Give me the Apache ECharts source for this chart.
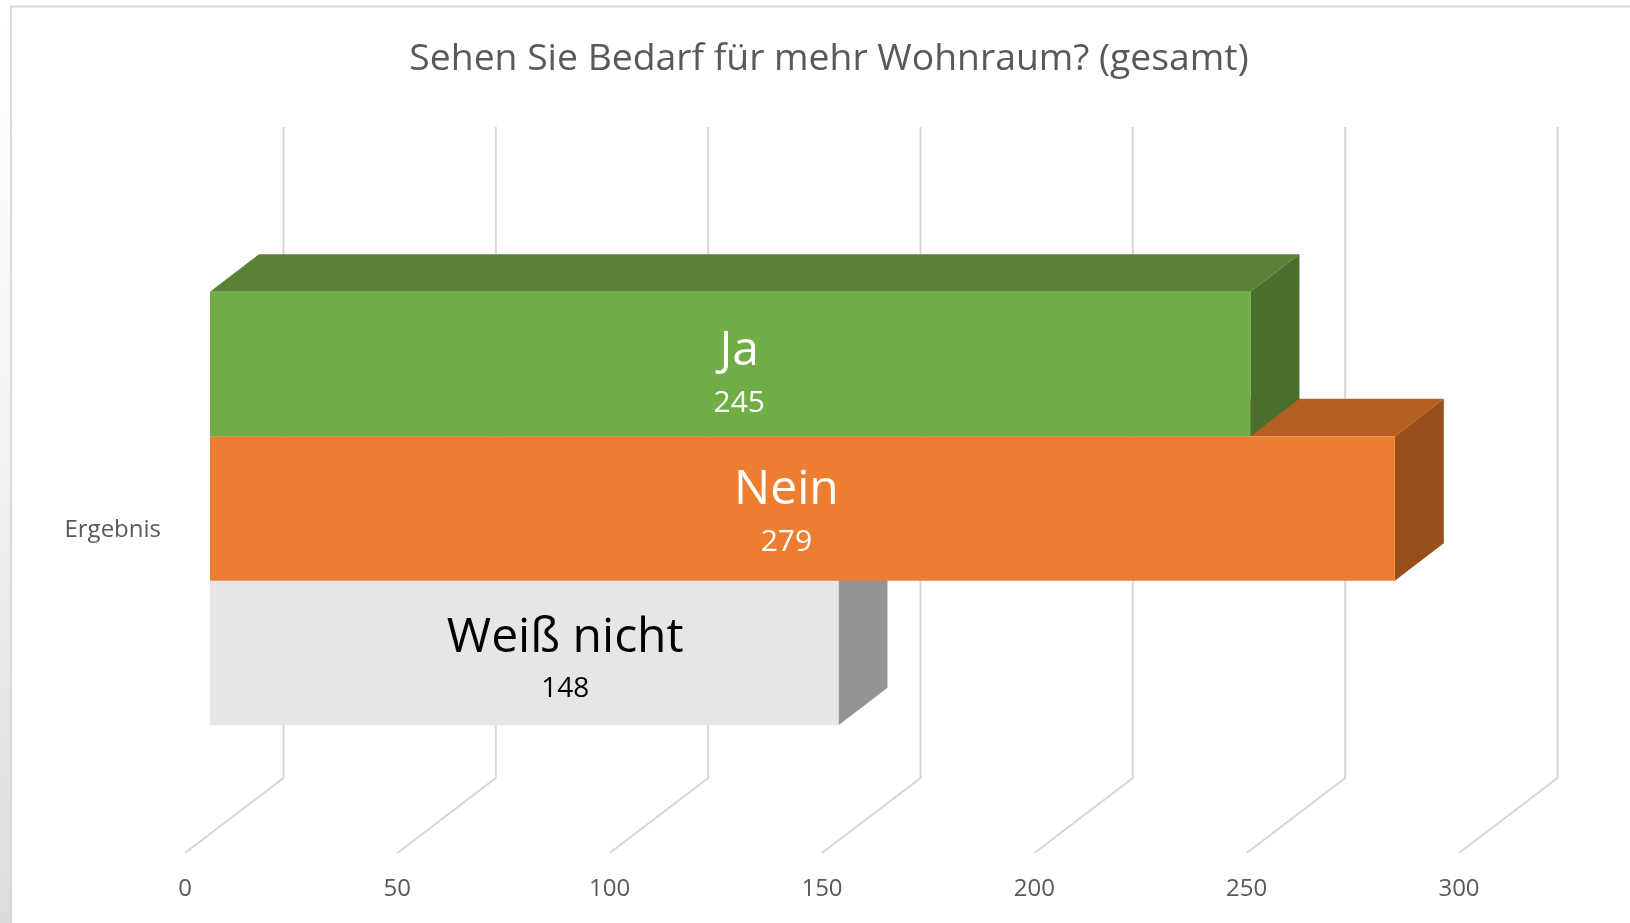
<!DOCTYPE html>
<html>
<head>
<meta charset="utf-8">
<style>
  html, body { margin: 0; padding: 0; background: #fff; }
  #chart { width: 1630px; height: 923px; }
</style>
<script src="https://cdn.jsdelivr.net/npm/echarts@6/dist/echarts.min.js"></script>
</head>
<body>
<div id="chart"></div>
<script>
const titleText = "Sehen Sie Bedarf für mehr Wohnraum? (gesamt)";
const categories = ["Ergebnis"];
const seriesNames = ["Ja", "Nein", "Weiß nicht"];
const seriesValues = [245, 279, 148];
const tickValues = [0, 50, 100, 150, 200, 250, 300];

const fontName = "Open Sans";
// face, top, side
const barColors = [
  ["#70AD47", "#5A8236", "#4A6E2C"],
  ["#ED7D31", "#B45E22", "#97501C"],
  ["#E6E6E6", "#E6E6E6", "#949494"]
];
const labelColors = ["#fff", "#fff", "#000"];
const valueSizes = [30, 30, 28];
// labels are not centred on the bars in the original
const labelShift = [9, -16, 41];
const nameY = [60, 54, 58];
const valueY = [112, 106, 108];

// depth of the floor, bars sit a quarter into it
const floorX = 98.5, floorY = 75;
const barX = 25, barY = 19, barDepthX = 49, barDepthY = 37.5;
const barBand = 144.5 / 651; // bar height as part of the category band

function renderGridLine(params, api) {
  const p = api.coord([api.value(0), 0]);
  const cs = params.coordSys;
  const x = p[0], bottom = cs.y + cs.height;
  return {
    type: "polyline",
    shape: {
      points: [
        [x, bottom],
        [x + floorX, bottom - floorY],
        [x + floorX, cs.y - floorY]
      ]
    },
    style: { fill: null, stroke: "#D6D6D6", lineWidth: 2 },
    silent: true
  };
}

function renderBar(params, api) {
  const i = api.value(2);
  const base = api.coord([0, 0]);
  const end = api.coord([api.value(0), 0]);
  const h = api.size([0, 1])[1] * barBand;
  const x0 = base[0] + barX;
  const x1 = end[0] + barX;
  const y0 = base[1] - barY + (i - 1.5) * h;
  const y1 = y0 + h;
  const colors = barColors[i];
  const dx = barDepthX, dy = barDepthY;
  return {
    type: "group",
    children: [
      {
        type: "polygon",
        shape: { points: [[x0, y0], [x1, y0], [x1 + dx, y0 - dy], [x0 + dx, y0 - dy]] },
        style: { fill: colors[1] }
      },
      {
        type: "polygon",
        shape: { points: [[x1, y0], [x1 + dx, y0 - dy], [x1 + dx, y1 - dy], [x1, y1]] },
        style: { fill: colors[2] }
      },
      {
        type: "rect",
        shape: { x: x0, y: y0, width: x1 - x0, height: h },
        style: { fill: colors[0] }
      },
      {
        type: "text",
        style: {
          x: (x0 + x1) / 2 + labelShift[i],
          y: y0 + nameY[i],
          text: seriesNames[i],
          fill: labelColors[i],
          font: "48px '" + fontName + "'",
          align: "center",
          verticalAlign: "middle"
        }
      },
      {
        type: "text",
        style: {
          x: (x0 + x1) / 2 + labelShift[i],
          y: y0 + valueY[i],
          text: String(api.value(0)),
          fill: labelColors[i],
          font: valueSizes[i] + "px '" + fontName + "'",
          align: "center",
          verticalAlign: "middle"
        }
      }
    ]
  };
}

// painted back to front, so the lower bars go first
const drawOrder = [2, 1, 0];
const barSeries = drawOrder.map(function (i) {
  return {
    type: "custom",
    name: seriesNames[i],
    renderItem: renderBar,
    encode: { x: 0, y: 1 },
    data: [[seriesValues[i], 0, i]],
    z: 5 + (2 - i),
    silent: true,
    animation: false
  };
});

const chart = echarts.init(document.getElementById("chart"), null, { renderer: "canvas" });
chart.setOption({
  animation: false,
  backgroundColor: "#fff",
  title: {
    text: titleText,
    left: 824,
    top: 36,
    textAlign: "center",
    textStyle: { color: "#595959", fontFamily: fontName, fontWeight: "normal", fontSize: 37.3 }
  },
  grid: { left: 185, top: 202, width: 1274, height: 651 },
  xAxis: {
    type: "value",
    min: 0,
    max: 300,
    interval: 50,
    axisLine: { show: false },
    axisTick: { show: false },
    splitLine: { show: false },
    axisLabel: { color: "#595959", fontFamily: fontName, fontSize: 24, margin: 24 }
  },
  yAxis: {
    type: "category",
    data: categories,
    axisLine: { show: false },
    axisTick: { show: false },
    axisLabel: {
      color: "#595959", fontFamily: fontName, fontSize: 24, margin: 24,
      verticalAlign: "top",
      lineHeight: 6
    }
  },
  graphic: [
    {
      type: "rect",
      shape: { x: 0, y: 0, width: 10, height: 923 },
      style: {
        fill: {
          type: "linear", x: 0, y: 0, x2: 0, y2: 1,
          colorStops: [
            { offset: 0, color: "#ffffff" },
            { offset: 0.4, color: "#f6f6f6" },
            { offset: 1, color: "#dcdcdc" }
          ]
        }
      },
      silent: true
    },
    {
      type: "polyline",
      shape: { points: [[11, 923], [11, 6.5], [1630, 6.5]] },
      style: { fill: null, stroke: "#D9D9D9", lineWidth: 2 },
      silent: true
    }
  ],
  series: [
    {
      type: "custom",
      name: "Gitter",
      renderItem: renderGridLine,
      encode: { x: 0 },
      data: tickValues.map(function (v) { return [v]; }),
      z: 1,
      silent: true,
      animation: false
    }
  ].concat(barSeries)
});
</script>
</body>
</html>
